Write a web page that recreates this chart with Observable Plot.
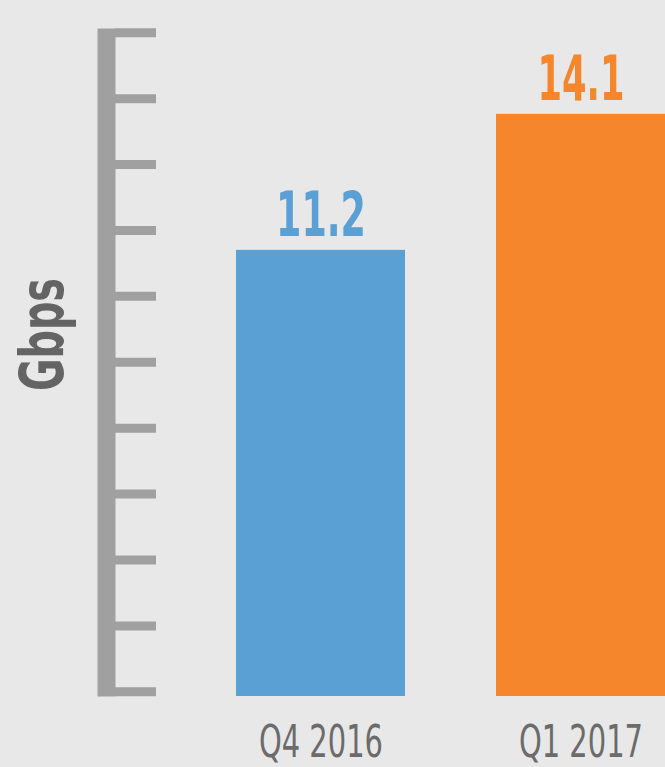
<!DOCTYPE html>
<html><head><meta charset="utf-8">
<script src="https://cdn.jsdelivr.net/npm/d3@7"></script>
<script src="https://cdn.jsdelivr.net/npm/@observablehq/plot@0.6"></script>
<style>
html,body{margin:0;padding:0;background:#e8e8e8;}
</style></head><body><div id="chart"></div>
<script>
// ---- data ----
const quarters = ["Q4 2016", "Q1 2017"];
const gbps = [11.2, 14.1];
const barColors = ["#5aa0d5", "#f6862b"];
// the drawn axis of the infographic does not start at zero
const axisRange = [1.69, 15.93];
const axisTicks = d3.range(11).map(i => 1.79 + i * 1.405);
const yLabel = "Gbps";

const data = quarters.map((q, i) => ({quarter: q, value: gbps[i], color: barColors[i]}));
const base = axisRange[0];
const condensed = "'Liberation Sans Narrow', 'DejaVu Sans Condensed', 'Roboto Condensed', Roboto, sans-serif";

const chart = Plot.plot({
  width: 665, height: 767,
  marginTop: 28, marginBottom: 71, marginLeft: 106, marginRight: 0,
  style: {background: "#e8e8e8", overflow: "hidden", fontFamily: condensed},
  x: {domain: quarters, range: [97, 804], paddingInner: 0.3487, paddingOuter: 0.529, axis: null},
  y: {domain: axisRange},
  marks: [
    Plot.frame({anchor: "left", stroke: "#a0a0a0", strokeWidth: 18, strokeLinecap: "butt"}),
    Plot.axisY({ticks: axisTicks, anchor: "left", tickSize: 41, dx: 50, stroke: "#a0a0a0",
                strokeWidth: 9, strokeLinecap: "butt", fill: "none", label: null, tickFormat: () => ""}),
    Plot.barY(data, {x: "quarter", y1: base, y2: "value", fill: "color"}),
    Plot.text(data, {x: "quarter", y: "value", text: d => d3.format(".1f")(d.value), fill: "color",
                     fontSize: 63, fontWeight: "bold", lineAnchor: "bottom", dy: -14.5}),
    Plot.text(data, {x: "quarter", frameAnchor: "bottom", text: "quarter", fill: "#6b6b6b",
                     fontSize: 44, lineAnchor: "bottom", dy: 60}),
    Plot.text([yLabel], {text: d => d, frameAnchor: "left", textAnchor: "middle", rotate: -90, lineAnchor: "bottom",
                         dx: -44, dy: -28, fontSize: 60, fontWeight: "bold", fill: "#646464"})
  ]
});

const svg = d3.select(chart);
const groups = svg.selectAll('g[aria-label="text"]').nodes();
const lens = [[90, 87], [124, 124], [113]];
groups.forEach((g, k) => {
  d3.select(g).selectAll("text").each(function(d, i) {
    this.setAttribute("textLength", lens[k][i]);
    this.setAttribute("lengthAdjust", "spacingAndGlyphs");
  });
});

document.getElementById("chart").appendChild(chart);
</script></body></html>
